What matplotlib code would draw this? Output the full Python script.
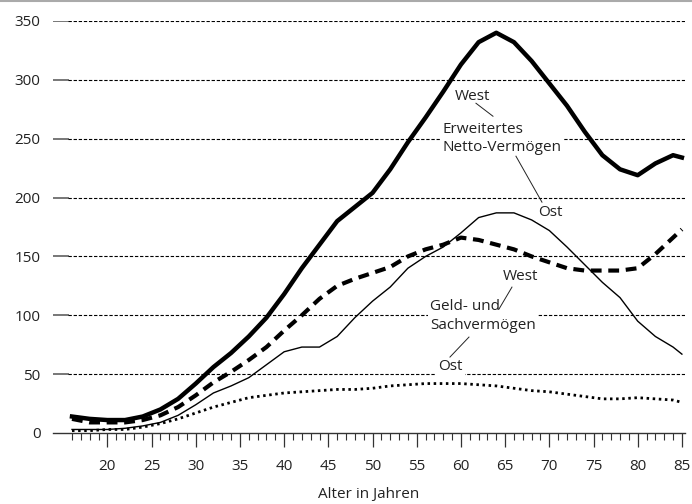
import matplotlib
matplotlib.use("Agg")
import matplotlib.pyplot as plt
from matplotlib.lines import Line2D

plt.rcParams['font.family'] = ['Open Sans', 'DejaVu Sans']

ages = [16, 18, 20, 22, 24, 26, 28, 30, 32, 34, 36, 38, 40, 42, 44, 46, 48, 50,
        52, 54, 56, 58, 60, 62, 64, 66, 68, 70, 72, 74, 76, 78, 80, 82, 84, 85]

west_netto = [14, 12, 11, 11, 14, 20, 29, 42, 56, 68, 82, 98, 118, 140, 160, 180, 192, 204,
              224, 247, 268, 290, 313, 332, 340, 332, 316, 297, 278, 256, 236, 224, 219, 229, 236, 234]
west_geld = [12, 9, 9, 9, 11, 15, 22, 32, 43, 52, 62, 73, 87, 100, 114, 125, 131, 136,
             141, 150, 156, 160, 166, 164, 160, 156, 150, 145, 140, 138, 138, 138, 140, 152, 166, 173]
ost_netto = [3, 3, 3, 4, 6, 9, 15, 24, 34, 40, 47, 58, 69, 73, 73, 82, 98, 112,
             124, 140, 150, 158, 170, 183, 187, 187, 181, 172, 158, 143, 128, 115, 95, 82, 73, 67]
ost_geld = [2, 2, 3, 3, 5, 8, 12, 17, 22, 26, 30, 32, 34, 35, 36, 37, 37, 38,
            40, 41, 42, 42, 42, 41, 40, 38, 36, 35, 33, 31, 29, 29, 30, 29, 28, 26]

y_ticks = [0, 50, 100, 150, 200, 250, 300, 350]
x_major = [20, 25, 30, 35, 40, 45, 50, 55, 60, 65, 70, 75, 80, 85]
x_minor = list(range(16, 86))
x_label = "Alter in Jahren"

FS = 11

fig = plt.figure(figsize=(6.92, 5.04), dpi=100)
ax = fig.add_axes([53/692, 1-433/504, 632/692, 412/504])
ax.set_xlim(13.85, 85.35)
ax.set_ylim(0, 350)

for s in ['top', 'right', 'left']:
    ax.spines[s].set_visible(False)
ax.spines['bottom'].set_color('#333333')
ax.spines['bottom'].set_linewidth(1.0)

# grid lines: short solid grey stub then dashed
stub = 15/632
for yv in y_ticks[1:]:
    ax.axhline(yv, xmin=0, xmax=stub, color='#777777', lw=1.4, zorder=1)
    ax.axhline(yv, xmin=stub, xmax=1, color='black', lw=0.8,
               dashes=(3.0, 1.6), zorder=1)

ax.set_yticks(y_ticks)
ax.set_yticklabels([str(v) for v in y_ticks])
ax.tick_params(axis='y', length=0, pad=9, labelsize=FS, labelcolor='#222222')

ax.set_xticks(x_major)
ax.set_xticks(x_minor, minor=True)
ax.set_xticklabels([str(v) for v in x_major])
ax.tick_params(axis='x', which='major', length=10, width=0.9, color='#333333',
               direction='out', pad=9, labelsize=FS, labelcolor='#222222')
ax.tick_params(axis='x', which='minor', length=5, width=0.8, color='#333333',
               direction='out')
ax.set_xlabel(x_label, fontsize=FS, color='#222222', labelpad=9)

ax.plot(ages, ost_geld, color='black', lw=2.0, linestyle=(0, (0.9, 1.3)),
        solid_capstyle='butt', zorder=3)
ax.plot(ages, ost_netto, color='black', lw=1.0, zorder=3)
ax.plot(ages, west_geld, color='black', lw=3.0, linestyle=(0, (2.6, 1.6)),
        dash_capstyle='butt', zorder=3)
ax.plot(ages, west_netto, color='black', lw=3.2, solid_joinstyle='round', zorder=4)

def px2data(px, py):
    x = 16 + (px - 72) / 8.84
    y = (433 - py) / 1.178
    return x, y

def label(text, px, py, ha='left'):
    x, y = px2data(px, py)
    ax.text(x, y, text, fontsize=FS, color='#222222', ha=ha, va='center',
            linespacing=1.3, zorder=5,
            bbox=dict(facecolor='white', edgecolor='none', pad=1.5))

def connector(p1, p2):
    x1, y1 = px2data(*p1)
    x2, y2 = px2data(*p2)
    ax.plot([x1, x2], [y1, y2], color='#222222', lw=0.7, zorder=6)

# upper annotation
label("West", 455, 96)
label("Erweitertes\nNetto-Vermögen", 443, 138)
label("Ost", 538, 212)
connector((476, 103), (493, 116))
connector((516, 156), (542, 202))

# lower annotation
label("West", 503, 276)
label("Geld- und\nSachvermögen", 430, 316)
label("Ost", 438, 366)
connector((512, 287), (499, 309))
connector((469, 337), (450, 357))

fig.add_artist(Line2D([0, 1], [1 - 1/504, 1 - 1/504], transform=fig.transFigure,
                      color='#aaaaaa', lw=1.5))

fig.savefig('out.png', dpi=100)
